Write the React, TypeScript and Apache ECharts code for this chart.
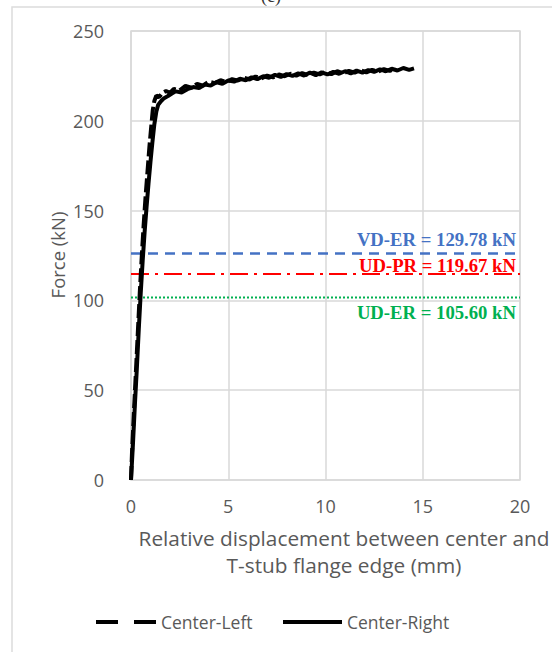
import React, { useEffect, useRef } from "react";
import * as echarts from "echarts";

// Center-Left (dashed) curve: displacement (mm) / force (kN)
const leftX = [0, 0.05, 0.15, 0.25, 0.35, 0.45, 0.55, 0.65, 0.75, 0.85, 0.95, 1.05, 1.12, 1.2, 1.3, 1.45, 1.6, 1.8, 2.0, 2.2, 2.5, 2.8, 3.1, 3.4, 3.7, 4.0, 4.3, 4.6, 4.9, 5.2, 5.5, 5.8, 6.1, 6.4, 6.7, 7.0, 7.3, 7.6, 7.9, 8.2, 8.5, 8.8, 9.1, 9.4, 9.7, 10.0, 10.3, 10.6, 10.9, 11.2, 11.5, 11.8, 12.1, 12.4, 12.7, 13.0, 13.3, 13.6];
const leftY = [0, 15, 38, 60, 82, 104, 124, 142, 158, 172, 186, 198, 206, 211, 214, 213.2, 215.4, 216.6, 215.6, 217.8, 217, 219.4, 218.4, 220.6, 219.6, 221.8, 221, 222.6, 221.6, 223.2, 222.4, 224, 223, 224.6, 223.6, 225.2, 224.2, 225.8, 224.8, 226.2, 225.2, 226.6, 225.4, 226.8, 225.8, 227.2, 226, 227.6, 226.4, 227.8, 226.8, 228.2, 227, 228.4, 227.4, 228.8, 227.8, 229];

// Center-Right (solid) curve
const rightX = [0, 0.1, 0.2, 0.3, 0.4, 0.5, 0.6, 0.7, 0.8, 0.9, 1.0, 1.1, 1.2, 1.3, 1.4, 1.55, 1.7, 1.9, 2.1, 2.3, 2.6, 2.9, 3.2, 3.5, 3.8, 4.1, 4.4, 4.7, 5.0, 5.3, 5.6, 5.9, 6.2, 6.5, 6.8, 7.1, 7.4, 7.7, 8.0, 8.3, 8.6, 8.9, 9.2, 9.5, 9.8, 10.1, 10.4, 10.7, 11.0, 11.3, 11.6, 11.9, 12.2, 12.5, 12.8, 13.1, 13.4, 13.7, 14.0, 14.3, 14.55];
const rightY = [0, 20, 42, 62, 84, 104, 122, 138, 152, 165, 177, 188, 198, 205, 209, 211, 212.6, 213.8, 215.2, 216.4, 215.8, 217.6, 218.8, 218.2, 220.2, 219.6, 221.4, 220.6, 222.4, 221.8, 223.4, 222.6, 224.2, 223.2, 224.8, 224, 225.6, 224.4, 226, 225, 226.4, 225.2, 226.8, 225.4, 227, 225.8, 227.2, 226.2, 227.6, 226.4, 228, 226.8, 228.2, 227.2, 228.6, 227.6, 229, 228, 229.4, 228.4, 229.2];

// Reference levels (as drawn) and their labels
const refLevels = [126.1, 114.7, 101.6];
const refLabels = ["VD-ER = 129.78 kN", "UD-PR = 119.67 kN", "UD-ER = 105.60 kN"];

const xTicks = [0, 5, 10, 15, 20];
const yTicks = [0, 50, 100, 150, 200, 250];
const seriesNames = ["Center-Left", "Center-Right"];

const FONT = "'Open Sans', 'Noto Sans', sans-serif";
const SERIF = "'Liberation Serif', 'DejaVu Serif', serif";

const refStyles = [
  { color: "#4472C4", type: [10, 7], width: 2.5, labelDy: -14 },
  { color: "#FF0000", type: [18, 6, 3, 6], width: 2, labelDy: -8.5 },
  { color: "#00B050", type: [2, 2], width: 2, labelDy: 15 },
];

export default function App() {
  const ref = useRef<HTMLDivElement>(null);
  useEffect(() => {
    document.body.style.margin = "0";
    if (!ref.current) return;
    const chart = echarts.init(ref.current, undefined, { renderer: "svg" });
    const leftData = leftX.map((x, i) => [x, leftY[i]]);
    const rightData = rightX.map((x, i) => [x, rightY[i]]);
    const xMin = xTicks[0];
    const xMax = xTicks[xTicks.length - 1];

    const refSeries = refLevels.map((v, i) => ({
      type: "line",
      name: "ref" + i,
      data: [[xMin, v], [xMax, v]],
      symbol: "none",
      silent: true,
      lineStyle: { color: refStyles[i].color, type: refStyles[i].type, width: refStyles[i].width },
      z: 1,
    }));

    chart.setOption({
      animation: false,
      backgroundColor: "#ffffff",
      grid: {
        left: 131,
        right: 32,
        top: 31,
        bottom: 172,
        show: true,
        borderColor: "#d9d9d9",
        borderWidth: 1.5,
      },
      xAxis: {
        type: "value",
        min: xMin,
        max: xMax,
        interval: 5,
        axisLine: { show: false },
        axisTick: { show: false },
        axisLabel: { color: "#595959", fontSize: 18, fontFamily: FONT, margin: 17 },
        splitLine: { lineStyle: { color: "#d9d9d9", width: 1.5 } },
      },
      yAxis: {
        type: "value",
        min: yTicks[0],
        max: yTicks[yTicks.length - 1],
        interval: 50,
        axisLine: { show: false },
        axisTick: { show: false },
        axisLabel: { color: "#595959", fontSize: 18, fontFamily: FONT, margin: 27 },
        splitLine: { lineStyle: { color: "#d9d9d9", width: 1.5 } },
      },
      series: [
        ...refSeries,
        {
          type: "line",
          name: seriesNames[0],
          data: leftData,
          symbol: "none",
          lineStyle: { color: "#000", width: 4, type: [14, 4] },
          z: 3,
        },
        {
          type: "line",
          name: seriesNames[1],
          data: rightData,
          symbol: "none",
          lineStyle: { color: "#000", width: 4 },
          z: 4,
        },
      ],
    });

    const right = chart.convertToPixel({ xAxisIndex: 0 }, xMax) as number;
    const labelGraphics = refLevels.map((v, i) => {
      const py = chart.convertToPixel({ yAxisIndex: 0 }, v) as number;
      return {
        type: "text",
        x: right - 4,
        y: py + refStyles[i].labelDy,
        z: 10,
        style: {
          text: refLabels[i],
          fill: refStyles[i].color,
          font: `bold 18.7px ${SERIF}`,
          textAlign: "right",
          textVerticalAlign: "middle",
        },
      };
    });

    const legendY = 622;
    const legendText = { font: `17.5px ${FONT}`, fill: "#595959", textVerticalAlign: "middle" };

    chart.setOption({
      graphic: [
        {
          type: "rect",
          shape: { x: 12, y: 7, width: 700, height: 800 },
          style: { fill: "none", stroke: "#dcdcdc", lineWidth: 1.5 },
          silent: true,
          z: -1,
        },
        {
          type: "text",
          x: 271,
          y: -13,
          style: { text: "(c)", font: `18px ${SERIF}`, fill: "#333", textAlign: "center" },
        },
        {
          type: "text",
          x: 57,
          y: 255,
          rotation: Math.PI / 2,
          style: {
            text: "Force (kN)",
            font: `18.5px ${FONT}`,
            fill: "#595959",
            textAlign: "center",
            textVerticalAlign: "middle",
          },
        },
        {
          type: "text",
          x: 344,
          y: 538,
          style: {
            text: "Relative displacement between center and",
            font: `20.8px ${FONT}`,
            fill: "#595959",
            textAlign: "center",
            textVerticalAlign: "middle",
          },
        },
        {
          type: "text",
          x: 344,
          y: 565,
          style: {
            text: "T-stub flange edge (mm)",
            font: `20.8px ${FONT}`,
            fill: "#595959",
            textAlign: "center",
            textVerticalAlign: "middle",
          },
        },
        // legend
        {
          type: "line",
          shape: { x1: 96, y1: legendY, x2: 156, y2: legendY },
          style: { stroke: "#000", lineWidth: 4, lineDash: [22, 16] },
        },
        { type: "text", x: 161, y: legendY, style: { text: seriesNames[0], ...legendText } },
        {
          type: "line",
          shape: { x1: 283, y1: legendY, x2: 342, y2: legendY },
          style: { stroke: "#000", lineWidth: 4 },
        },
        { type: "text", x: 347, y: legendY, style: { text: seriesNames[1], ...legendText } },
        ...labelGraphics,
      ],
    });

    return () => chart.dispose();
  }, []);
  return <div ref={ref} style={{ width: 552, height: 652 }} />;
}
